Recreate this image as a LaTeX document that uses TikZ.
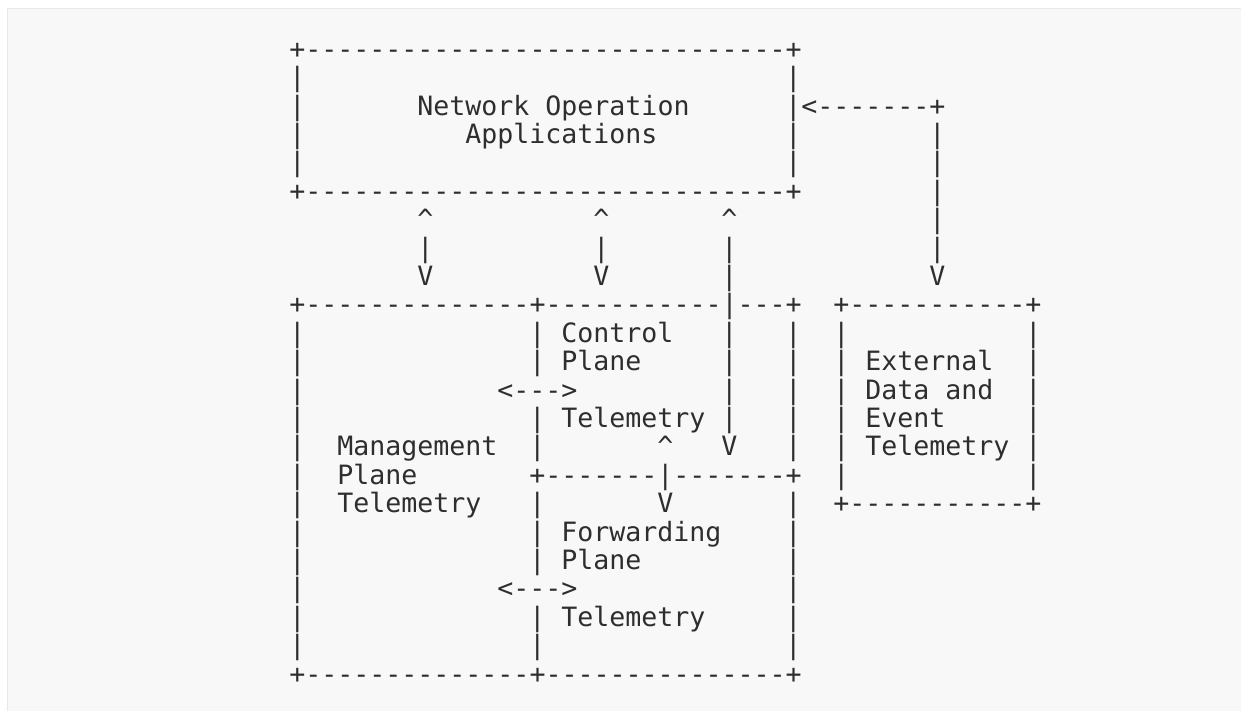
\documentclass[tikz,border=0pt]{standalone}
\usepackage{fontspec}
\setmonofont{DejaVu Sans Mono}
\definecolor{panelbg}{HTML}{F8F8F8}
\definecolor{panelrule}{HTML}{E8E8E8}
\definecolor{ink}{HTML}{2E2E2E}
\tikzset{
  txt/.style={anchor=base west, inner sep=0pt, outer sep=0pt, text=ink,
    font=\fontsize{26.6pt}{28.4pt}\selectfont\ttfamily},
}
\newcommand\putat[3]{\node[txt] (s#1-#2) at ({289.3pt+16pt*#2},{-(29.8pt+28.4pt*#1)}) {#3};}
\begin{document}
\begin{tikzpicture}[x=1pt,y=1pt]
\useasboundingbox (0,0) rectangle (1241,-710);
\clip (0,0) rectangle (1241,-710);
\fill[white] (0,0) rectangle (1241,-710);
\draw[panelrule, line width=1.6pt, fill=panelbg] (7.5,-8.5) rectangle (1260,-730);
% row 1
\putat{1}{0}{+------------------------------+}
% row 2
\putat{2}{0}{|}\putat{2}{31}{|}
% row 3
\putat{3}{0}{|}\putat{3}{8}{Network Operation}\putat{3}{31}{|<-------+}
% row 4
\putat{4}{0}{|}\putat{4}{11}{Applications}\putat{4}{31}{|}\putat{4}{40}{|}
% row 5
\putat{5}{0}{|}\putat{5}{31}{|}\putat{5}{40}{|}
% row 6
\putat{6}{0}{+------------------------------+}\putat{6}{40}{|}
% row 7
\putat{7}{8}{\^{}}\putat{7}{19}{\^{}}\putat{7}{27}{\^{}}\putat{7}{40}{|}
% row 8
\putat{8}{8}{|}\putat{8}{19}{|}\putat{8}{27}{|}\putat{8}{40}{|}
% row 9
\putat{9}{8}{V}\putat{9}{19}{V}\putat{9}{27}{|}\putat{9}{40}{V}
% row 10
\putat{10}{0}{+--------------+-----------|---+}\putat{10}{34}{+-----------+}
% row 11
\putat{11}{0}{|}\putat{11}{15}{|}\putat{11}{17}{Control}\putat{11}{27}{|}\putat{11}{31}{|}\putat{11}{34}{|}\putat{11}{46}{|}
% row 12
\putat{12}{0}{|}\putat{12}{15}{|}\putat{12}{17}{Plane}\putat{12}{27}{|}\putat{12}{31}{|}\putat{12}{34}{|}\putat{12}{36}{External}\putat{12}{46}{|}
% row 13
\putat{13}{0}{|}\putat{13}{13}{<--->}\putat{13}{27}{|}\putat{13}{31}{|}\putat{13}{34}{|}\putat{13}{36}{Data and}\putat{13}{46}{|}
% row 14
\putat{14}{0}{|}\putat{14}{15}{|}\putat{14}{17}{Telemetry}\putat{14}{27}{|}\putat{14}{31}{|}\putat{14}{34}{|}\putat{14}{36}{Event}\putat{14}{46}{|}
% row 15
\putat{15}{0}{|}\putat{15}{3}{Management}\putat{15}{15}{|}\putat{15}{23}{\^{}}\putat{15}{27}{V}\putat{15}{31}{|}\putat{15}{34}{|}\putat{15}{36}{Telemetry}\putat{15}{46}{|}
% row 16
\putat{16}{0}{|}\putat{16}{3}{Plane}\putat{16}{15}{+-------|-------+}\putat{16}{34}{|}\putat{16}{46}{|}
% row 17
\putat{17}{0}{|}\putat{17}{3}{Telemetry}\putat{17}{15}{|}\putat{17}{23}{V}\putat{17}{31}{|}\putat{17}{34}{+-----------+}
% row 18
\putat{18}{0}{|}\putat{18}{15}{|}\putat{18}{17}{Forwarding}\putat{18}{31}{|}
% row 19
\putat{19}{0}{|}\putat{19}{15}{|}\putat{19}{17}{Plane}\putat{19}{31}{|}
% row 20
\putat{20}{0}{|}\putat{20}{13}{<--->}\putat{20}{31}{|}
% row 21
\putat{21}{0}{|}\putat{21}{15}{|}\putat{21}{17}{Telemetry}\putat{21}{31}{|}
% row 22
\putat{22}{0}{|}\putat{22}{15}{|}\putat{22}{31}{|}
% row 23
\putat{23}{0}{+--------------+---------------+}
\end{tikzpicture}
\end{document}
